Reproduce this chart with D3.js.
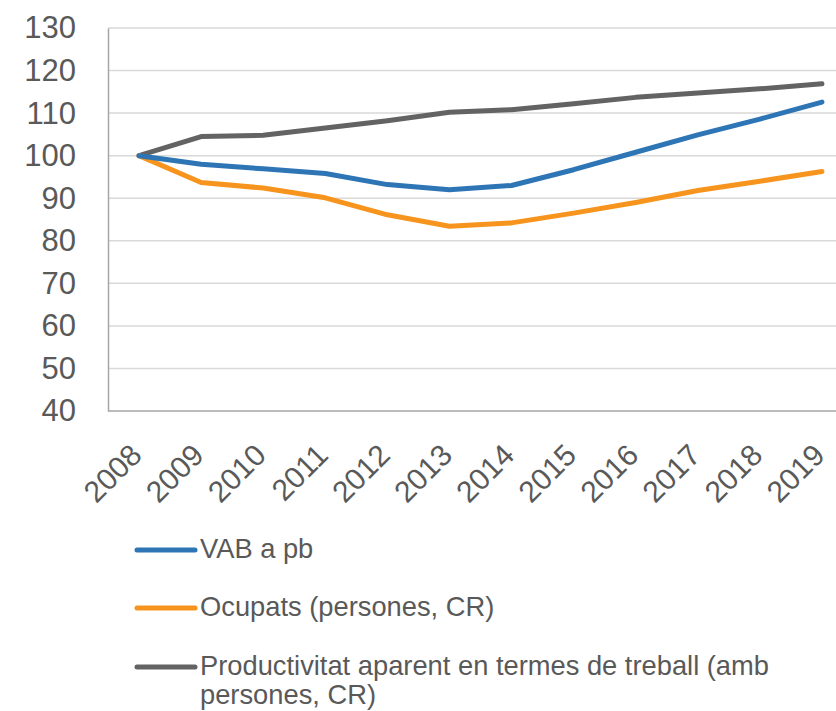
<!DOCTYPE html>
<html>
<head>
<meta charset="utf-8">
<script src="https://cdn.jsdelivr.net/npm/d3@7"></script>
<style>
  body { margin: 0; background: #fff; }
  svg { display: block; font-family: "Liberation Sans", Arial, sans-serif; }
</style>
</head>
<body>
<div id="chart"></div>
<script>
const years = ["2008","2009","2010","2011","2012","2013","2014","2015","2016","2017","2018","2019"]
const vab = [100, 98.0, 96.9, 95.8, 93.2, 92.0, 93.0, 96.7, 100.8, 104.9, 108.6, 112.6]
const ocupats = [100, 93.7, 92.4, 90.1, 86.1, 83.4, 84.2, 86.5, 89.0, 91.8, 94.0, 96.3]
const productivitat = [100, 104.5, 104.8, 106.5, 108.2, 110.2, 110.8, 112.2, 113.7, 114.7, 115.7, 116.9]
const yTicks = [40, 50, 60, 70, 80, 90, 100, 110, 120, 130]
const seriesNames = ["VAB a pb", "Ocupats (persones, CR)", "Productivitat aparent en termes de treball (amb persones, CR)"]
const seriesColors = ["#2E75B6", "#F7941D", "#636363"]

const width = 836, height = 711
const svg = d3.select("#chart").append("svg").attr("width", width).attr("height", height)

const plotLeft = 108, plotRight = 853, plotTop = 28, plotBottom = 411
const x = d3.scalePoint().domain(years).range([plotLeft, plotRight]).padding(0.5)
const y = d3.scaleLinear().domain([40, 130]).range([plotBottom, plotTop])

// gridlines
svg.append("g").selectAll("line").data(yTicks.slice(1)).enter().append("line")
    .attr("x1", plotLeft).attr("x2", plotRight)
    .attr("y1", d => y(d)).attr("y2", d => y(d))
    .attr("stroke", "#d9d9d9").attr("stroke-width", 1.5)

// y axis
const yAxis = svg.append("g").attr("transform", `translate(${plotLeft},0)`)
    .call(d3.axisLeft(y).tickValues(yTicks).tickSize(0).tickPadding(32))
yAxis.select(".domain").attr("stroke", "#a6a6a6").attr("stroke-width", 1.5)
yAxis.selectAll("text").attr("fill", "#595959").style("font-size", "31px")
    .attr("font-family", "Liberation Sans, Arial, sans-serif")

// x axis
const xAxis = svg.append("g").attr("transform", `translate(0,${plotBottom})`)
    .call(d3.axisBottom(x).tickSize(0).tickPadding(0))
xAxis.select(".domain").attr("stroke", "#a6a6a6").attr("stroke-width", 1.5)
    .attr("d", `M${plotLeft},0H${plotRight}`)
xAxis.selectAll("text").attr("fill", "#595959").style("font-size", "30px")
    .attr("font-family", "Liberation Sans, Arial, sans-serif")
    .attr("text-anchor", "end")
    .attr("dy", "0")
    .attr("transform", "translate(4,46) rotate(-45)")

// lines
const line = d3.line().x((d, i) => x(years[i])).y(d => y(d))
const allSeries = [vab, ocupats, productivitat]
// grey first, then orange, blue on top
svg.append("g").selectAll("path").data([2, 1, 0]).enter().append("path")
    .attr("d", i => line(allSeries[i]))
    .attr("fill", "none")
    .attr("stroke", i => seriesColors[i])
    .attr("stroke-width", 5)
    .attr("stroke-linejoin", "round")
    .attr("stroke-linecap", "round")

// legend
const legendY = [550, 608, 667]
const legend = svg.append("g")
seriesNames.forEach((name, i) => {
    legend.append("line")
        .attr("x1", 137).attr("x2", 195)
        .attr("y1", legendY[i]).attr("y2", legendY[i])
        .attr("stroke", seriesColors[i]).attr("stroke-width", 5)
        .attr("stroke-linecap", "round")
    const t = legend.append("text")
        .attr("x", 200).attr("y", legendY[i] + 8)
        .attr("fill", "#595959").style("font-size", "27.3px")
    if (i === 2) {
        t.append("tspan").attr("x", 200).text("Productivitat aparent en termes de treball (amb")
        t.append("tspan").attr("x", 200).attr("dy", 29).text("persones, CR)")
    } else {
        t.text(name)
    }
})
</script>
</body>
</html>
